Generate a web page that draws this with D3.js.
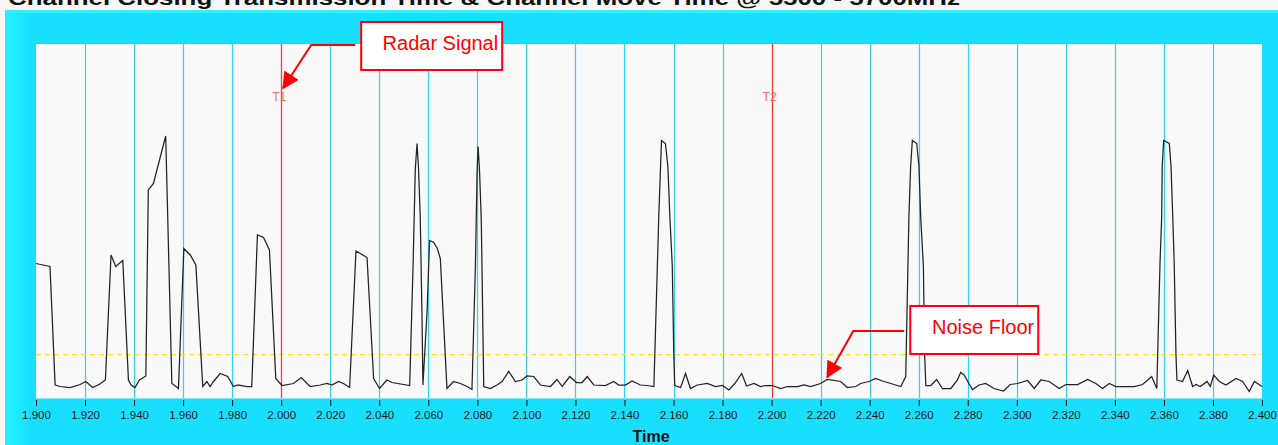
<!DOCTYPE html>
<html>
<head>
<meta charset="utf-8">
<script src="https://cdn.jsdelivr.net/npm/d3@7"></script>
<style>
  html, body { margin: 0; padding: 0; background: #f7f7f7; }
  svg { display: block; font-family: Arial, "Liberation Sans", sans-serif; }
</style>
</head>
<body>
<svg id="chart" width="1278" height="445"></svg>
<script>
// ---------------- data ----------------
const chartTitle = "Channel Closing Transmission Time & Channel Move Time @ 5500 - 5700MHz";
const xAxisTitle = "Time";
const xTicks = [1.90,1.92,1.94,1.96,1.98,2.00,2.02,2.04,2.06,2.08,2.10,2.12,2.14,2.16,2.18,2.20,2.22,2.24,2.26,2.28,2.30,2.32,2.34,2.36,2.38,2.40];
const markerTimes = [2.000, 2.200];
const markerLabels = ["T1", "T2"];
const noiseFloor = 8.8;
const annotationTexts = ["Radar Signal", "Noise Floor"];
const annotationTargets = [[2.0000, 62.0], [2.2227, 4.2]];

const time = [
1.9000,1.9057,1.9078,1.9098,1.9139,1.9180,1.9203,1.9231,1.9261,1.9283,
1.9306,1.9325,1.9354,1.9377,1.9388,1.9404,1.9422,1.9448,1.9458,1.9479,
1.9529,1.9554,1.9581,1.9603,1.9629,1.9652,1.9680,1.9697,1.9710,1.9724,
1.9751,1.9782,1.9805,1.9823,1.9860,1.9880,1.9903,1.9928,1.9952,1.9978,
2.0003,2.0050,2.0082,2.0118,2.0159,2.0187,2.0207,2.0234,2.0254,2.0279,
2.0305,2.0350,2.0377,2.0401,2.0431,2.0452,2.0524,2.0538,2.0547,2.0554,
2.0560,2.0567,2.0574,2.0578,2.0595,2.0605,2.0622,2.0636,2.0649,2.0676,
2.0703,2.0731,2.0758,2.0778,2.0792,2.0799,2.0803,2.0809,2.0816,2.0826,
2.0853,2.0880,2.0901,2.0928,2.0955,2.0982,2.1003,2.1030,2.1057,2.1098,
2.1125,2.1146,2.1177,2.1204,2.1227,2.1248,2.1275,2.1322,2.1356,2.1377,
2.1404,2.1431,2.1465,2.1493,2.1520,2.1540,2.1551,2.1567,2.1577,2.1585,
2.1595,2.1601,2.1605,2.1629,2.1649,2.1669,2.1697,2.1738,2.1771,2.1799,
2.1826,2.1850,2.1878,2.1898,2.1928,2.1955,2.1976,2.2003,2.2037,2.2064,
2.2105,2.2132,2.2159,2.2200,2.2227,2.2282,2.2309,2.2343,2.2363,2.2397,
2.2424,2.2452,2.2486,2.2527,2.2547,2.2560,2.2567,2.2574,2.2592,2.2601,
2.2608,2.2619,2.2624,2.2629,2.2649,2.2673,2.2697,2.2731,2.2758,2.2771,
2.2785,2.2819,2.2846,2.2873,2.2907,2.2946,2.2973,2.3003,2.3044,2.3071,
2.3098,2.3132,2.3173,2.3200,2.3248,2.3289,2.3322,2.3350,2.3377,2.3404,
2.3438,2.3479,2.3513,2.3550,2.3571,2.3584,2.3591,2.3593,2.3599,2.3622,
2.3629,2.3636,2.3642,2.3649,2.3653,2.3676,2.3697,2.3717,2.3731,2.3748,
2.3776,2.3789,2.3803,2.3826,2.3853,2.3894,2.3921,2.3948,2.3969,2.4000
];
const amplitude = [
26.9,26.3,2.6,2.3,2.1,2.7,3.3,2.1,2.8,3.6,
28.6,26.3,27.5,3.6,2.6,2.1,3.6,4.4,41.6,42.9,
52.4,2.9,1.9,29.9,28.6,26.6,2.3,3.3,2.3,3.3,
4.9,4.3,2.3,2.6,2.3,2.3,32.6,32.1,29.6,3.9,
2.5,2.9,4.1,2.3,2.6,2.9,2.6,3.3,2.9,2.1,
29.4,28.1,3.9,1.9,3.6,3.1,2.5,26.9,45.9,50.9,
45.9,36.3,17.0,2.6,17.3,31.5,31.1,30.0,27.9,1.9,
3.3,2.9,2.3,1.7,26.3,45.3,50.3,45.3,35.6,2.3,
1.9,2.6,3.3,5.3,3.3,3.6,4.4,4.3,2.6,2.3,
3.7,2.3,4.3,3.1,3.1,4.3,2.6,2.5,3.3,2.6,
2.6,3.4,2.6,2.5,2.3,36.6,51.5,50.9,46.3,36.3,
26.3,8.9,2.5,2.1,4.9,1.9,2.6,2.9,2.3,2.5,
1.6,2.9,4.9,2.4,2.9,2.3,2.5,2.5,1.9,2.3,
2.3,2.6,2.3,2.9,3.7,3.3,2.1,2.3,2.9,3.3,
3.9,3.4,2.9,2.3,4.3,36.3,46.3,51.5,50.9,46.3,
36.3,26.3,8.9,2.5,2.5,3.7,1.9,1.9,3.6,5.1,
4.6,1.7,2.6,2.9,1.9,1.4,2.7,2.9,3.5,1.9,
3.6,3.3,1.9,2.7,2.7,3.7,2.9,1.9,2.9,2.3,
2.3,2.3,2.7,4.3,1.9,26.9,36.3,46.3,51.5,50.9,
46.3,36.3,26.9,8.9,3.6,3.3,5.5,2.3,2.7,2.3,
3.3,2.3,4.6,3.3,2.6,3.9,3.3,1.3,3.3,2.3
];

// ---------------- layout ----------------
const W = 1278, H = 445;
const plot = { left: 36, right: 1262, top: 43, bottom: 398 };
const svg = d3.select("#chart");

// page background & title (title sits partly above the top edge, as in the source)
svg.append("rect").attr("width", W).attr("height", H).attr("fill", "#f7f7f7");
svg.append("text")
  .attr("x", 8).attr("y", 5)
  .attr("font-size", 20).attr("font-weight", "bold").attr("fill", "#111")
  .attr("textLength", 952).attr("lengthAdjust", "spacingAndGlyphs")
  .text(chartTitle);

// cyan panel
const defs = svg.append("defs");
const lg = defs.append("linearGradient").attr("id", "leftband").attr("x1", 0).attr("x2", 1);
lg.append("stop").attr("offset", "0%").attr("stop-color", "#22f3ff");
lg.append("stop").attr("offset", "35%").attr("stop-color", "#20eeff");
lg.append("stop").attr("offset", "100%").attr("stop-color", "#19e0ff");
svg.append("rect").attr("x", 5).attr("y", 10).attr("width", W - 5).attr("height", H - 10).attr("fill", "#19dfff");
svg.append("rect").attr("x", 5).attr("y", 10).attr("width", 24).attr("height", H - 10).attr("fill", "url(#leftband)");
svg.append("rect").attr("x", 5).attr("y", 10).attr("width", W - 5).attr("height", 3).attr("fill", "#2ef0ff");

// plot background
svg.append("rect")
  .attr("x", plot.left).attr("y", plot.top)
  .attr("width", plot.right - plot.left).attr("height", plot.bottom - plot.top)
  .attr("fill", "#f9f9f9");
svg.append("line")
  .attr("x1", plot.left).attr("x2", plot.right).attr("y1", plot.top + 0.5).attr("y2", plot.top + 0.5)
  .attr("stroke", "#9aa3a8").attr("stroke-width", 1);

// scales
const x = d3.scaleLinear().domain([1.9, 2.4]).range([plot.left, plot.right]);
const y = d3.scaleLinear().domain([0, 71]).range([plot.bottom, plot.top]);

// vertical grid lines
svg.append("g").selectAll("line")
  .data(xTicks.filter(t => t > 1.9001 && t < 2.3999 && !markerTimes.some(m => Math.abs(m - t) < 1e-6)))
  .join("line")
  .attr("x1", d => Math.round(x(d)) + 0.5).attr("x2", d => Math.round(x(d)) + 0.5)
  .attr("y1", plot.top + 1).attr("y2", plot.bottom)
  .attr("stroke", "#2fd2f2").attr("stroke-width", 1.2);

// bottom edge line of plot
svg.append("line")
  .attr("x1", plot.left).attr("x2", plot.right).attr("y1", plot.bottom + 0.5).attr("y2", plot.bottom + 0.5)
  .attr("stroke", "#7fe8fb").attr("stroke-width", 1);

// noise floor (dashed yellow)
svg.append("line")
  .attr("x1", plot.left).attr("x2", plot.right)
  .attr("y1", Math.round(y(noiseFloor)) + 0.5).attr("y2", Math.round(y(noiseFloor)) + 0.5)
  .attr("stroke", "#f2ea1a").attr("stroke-width", 1.2).attr("stroke-dasharray", "5,4");

// marker lines T1/T2
const mk = svg.append("g");
mk.selectAll("line").data(markerTimes).join("line")
  .attr("x1", d => Math.round(x(d)) + 0.5).attr("x2", d => Math.round(x(d)) + 0.5)
  .attr("y1", plot.top + 1).attr("y2", plot.bottom)
  .attr("stroke", "#ff3838").attr("stroke-width", 1.3);
mk.selectAll("text").data(markerTimes).join("text")
  .attr("x", d => x(d) - 2).attr("y", 101)
  .attr("text-anchor", "middle").attr("font-size", 12).attr("fill", "#ff6a6a")
  .text((d, i) => markerLabels[i]);

// data line
const line = d3.line().x((d, i) => x(time[i])).y(d => y(d));
svg.append("path")
  .datum(amplitude)
  .attr("d", line)
  .attr("fill", "none").attr("stroke", "#222222").attr("stroke-width", 1.25)
  .attr("stroke-linejoin", "miter");

// x axis
const axis = d3.axisBottom(x).tickValues(xTicks).tickFormat(d3.format(".3f")).tickSize(6).tickPadding(5);
const ax = svg.append("g").attr("transform", `translate(0,${plot.bottom + 2})`).call(axis);
ax.select(".domain").remove();
ax.selectAll(".tick line").attr("stroke", "#111");
ax.selectAll(".tick text").attr("font-size", 11.5).attr("fill", "#1a1a1a")
  .attr("font-family", "Arial, 'Liberation Sans', sans-serif");

svg.append("text")
  .attr("x", (plot.left + plot.right) / 2 + 2).attr("y", 442)
  .attr("text-anchor", "middle").attr("font-size", 16).attr("font-weight", "bold").attr("fill", "#111")
  .text(xAxisTitle);

// annotations
defs.append("marker").attr("id", "arrowhead")
  .attr("viewBox", "0 0 10 10").attr("refX", 9).attr("refY", 5)
  .attr("markerWidth", 17).attr("markerHeight", 17).attr("markerUnits", "userSpaceOnUse")
  .attr("orient", "auto")
  .append("path").attr("d", "M0,0 L10,5 L0,10 Z").attr("fill", "#ff0000");

const annBoxes = [
  { dx: 78, top: 22, w: 141, h: 48, elbow: 28, lineY: 45 },
  { dx: 83, top: 306, w: 128, h: 48, elbow: 26, lineY: 331 }
];
annotationTexts.forEach((txt, i) => {
  const tx = x(annotationTargets[i][0]) + (i === 0 ? 2 : 0);
  const ty = y(annotationTargets[i][1]);
  const b = annBoxes[i];
  const bx = tx + b.dx;
  const g = svg.append("g");
  g.append("path")
    .attr("d", `M${bx - 6},${b.lineY} L${tx + b.elbow},${b.lineY} L${tx},${ty}`)
    .attr("fill", "none").attr("stroke", "#ff0000").attr("stroke-width", 2)
    .attr("marker-end", "url(#arrowhead)");
  g.append("rect")
    .attr("x", bx).attr("y", b.top).attr("width", b.w).attr("height", b.h)
    .attr("fill", "#ffffff").attr("stroke", "#ff0000").attr("stroke-width", 2);
  g.append("text")
    .attr("x", bx + b.w - 4).attr("y", b.top + 28)
    .attr("text-anchor", "end").attr("font-size", 20).attr("fill", "#ff0000")
    .text(txt);
});
</script>
</body>
</html>
